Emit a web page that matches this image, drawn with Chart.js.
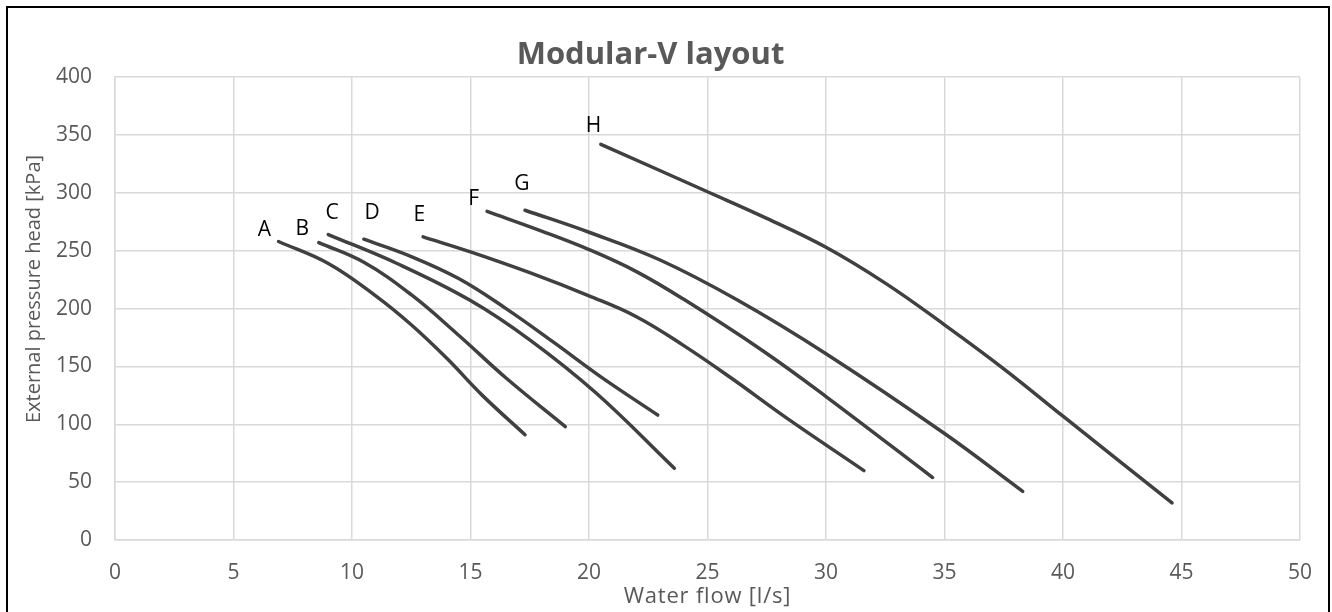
<!DOCTYPE html>
<html>
<head>
<meta charset="utf-8">
<title>Modular-V layout</title>
<script src="https://cdn.jsdelivr.net/npm/chart.js@4.4.1/dist/chart.umd.min.js"></script>
<style>
  html, body { margin: 0; padding: 0; background: #fff; overflow: hidden; }
  #frame { position: absolute; left: 6px; top: 6px; width: 1324px; height: 700px; border: 2px solid #000; box-sizing: border-box; }
  #wrap { position: absolute; left: 0; top: 0; width: 1332px; height: 612px; }
</style>
</head>
<body>
<div id="frame"></div>
<div id="wrap"><canvas id="pumpChart"></canvas></div>
<script>
// curve names
const curveNames = ['A', 'B', 'C', 'D', 'E', 'F', 'G', 'H'];

// water flow [l/s] for each curve
const flowA = [6.9, 9, 11, 12.5, 14, 15.5, 17.3];
const flowB = [8.6, 10.5, 12.5, 14.5, 16.5, 19];
const flowC = [9, 11.9, 15, 17.5, 20.3, 23.6];
const flowD = [10.5, 12.5, 14.5, 16.5, 18.5, 20.5, 22.9];
const flowE = [13, 15, 17.5, 20, 22, 24, 26, 28.3, 31.6];
const flowF = [15.7, 18, 20, 22, 24, 27.3, 30, 34.5];
const flowG = [17.3, 20, 23, 26.3, 30, 35, 38.3];
const flowH = [20.5, 25, 27.5, 30, 32.5, 35, 37.5, 40, 44.6];

// external pressure head [kPa] for each curve
const headA = [258, 239, 211, 186, 157, 125, 91];
const headB = [257, 240, 212, 177, 140, 98];
const headC = [264, 239, 207, 173, 127, 62];
const headD = [260, 245, 226, 200, 171, 141, 108];
const headE = [262, 249, 231, 211, 193, 168, 140, 106, 60];
const headF = [284, 267, 251, 232, 208, 164, 124, 54];
const headG = [285, 266, 242, 207, 161, 92, 42];
const headH = [342, 301, 278, 253, 222, 186, 148, 107, 32];

// where each curve's letter sits (data units)
const labelFlow = [6.3, 7.9, 9.16, 10.85, 12.84, 15.13, 17.17, 20.19];
const labelHead = [268, 268.6, 282.8, 282.8, 280.8, 295, 307.6, 357.6];

// axis ticks
const flowTicks = [0, 5, 10, 15, 20, 25, 30, 35, 40, 45, 50];
const headTicks = [0, 50, 100, 150, 200, 250, 300, 350, 400];

const flows = [flowA, flowB, flowC, flowD, flowE, flowF, flowG, flowH];
const heads = [headA, headB, headC, headD, headE, headF, headG, headH];

const textGrey = '#595959';
const lineGrey = '#404040';
const gridGrey = '#d9d9d9';
const fontName = "'Open Sans', 'DejaVu Sans', sans-serif";

const datasets = curveNames.map(function (name, i) {
  return {
    label: name,
    data: flows[i].map(function (x, j) { return { x: x, y: heads[i][j] }; }),
    showLine: true,
    borderColor: lineGrey,
    borderWidth: 3.5,
    borderCapStyle: 'round',
    pointRadius: 0,
    tension: 0.4,
    fill: false
  };
});

// draws the curve letters and both axis titles
const curveLabels = {
  id: 'curveLabels',
  afterDatasetsDraw(chart) {
    const ctx = chart.ctx;
    const xs = chart.scales.x, ys = chart.scales.y;
    ctx.save();
    ctx.fillStyle = '#000';
    ctx.font = '21px ' + fontName;
    ctx.textAlign = 'center';
    ctx.textBaseline = 'middle';
    curveNames.forEach(function (name, i) {
      ctx.fillText(name, xs.getPixelForValue(labelFlow[i]), ys.getPixelForValue(labelHead[i]));
    });
    ctx.restore();
  },
  afterDraw(chart) {
    const ctx = chart.ctx;
    const area = chart.chartArea;
    ctx.save();
    ctx.fillStyle = textGrey;
    ctx.textAlign = 'center';
    ctx.textBaseline = 'middle';
    ctx.font = '22px ' + fontName;
    ctx.letterSpacing = '0.8px';
    ctx.fillText('Water flow [l/s]', (area.left + area.right) / 2, 597);
    ctx.letterSpacing = '0px';
    ctx.font = '20px ' + fontName;
    ctx.translate(34, 289);
    ctx.rotate(-Math.PI / 2);
    ctx.fillText('External pressure head [kPa]', 0, 0);
    ctx.restore();
  }
};

const pumpCtx = document.getElementById('pumpChart').getContext('2d');
const pumpChart = new Chart(pumpCtx, {
  type: 'scatter',
  data: { datasets: datasets },
  options: {
    responsive: true,
    maintainAspectRatio: false,
    animation: false,
    layout: { padding: { left: 0, right: 31, top: 0, bottom: 0 } },
    plugins: {
      legend: { display: false },
      tooltip: { enabled: false },
      title: {
        display: true,
        text: 'Modular-V layout',
        color: textGrey,
        font: { family: fontName, size: 31, weight: 'bold' },
        padding: { top: 37, bottom: 3 }
      }
    },
    scales: {
      x: {
        type: 'linear',
        min: 0,
        max: 50,
        afterBuildTicks: function (scale) {
          scale.ticks = flowTicks.map(function (v) { return { value: v }; });
        },
        afterFit: function (scale) { scale.height = 72; },
        grid: { color: gridGrey, lineWidth: 1.5, drawTicks: false },
        border: { color: gridGrey, width: 1.5 },
        ticks: { color: textGrey, font: { family: fontName, size: 21 }, padding: 20, maxRotation: 0 }
      },
      y: {
        type: 'linear',
        min: 0,
        max: 400,
        afterBuildTicks: function (scale) {
          scale.ticks = headTicks.map(function (v) { return { value: v }; });
        },
        afterFit: function (scale) { scale.width = 115; },
        grid: { color: gridGrey, lineWidth: 1.5, drawTicks: false },
        border: { color: gridGrey, width: 1.5 },
        ticks: { color: textGrey, font: { family: fontName, size: 21 }, padding: 23 }
      }
    }
  },
  plugins: [curveLabels]
});
</script>
</body>
</html>
